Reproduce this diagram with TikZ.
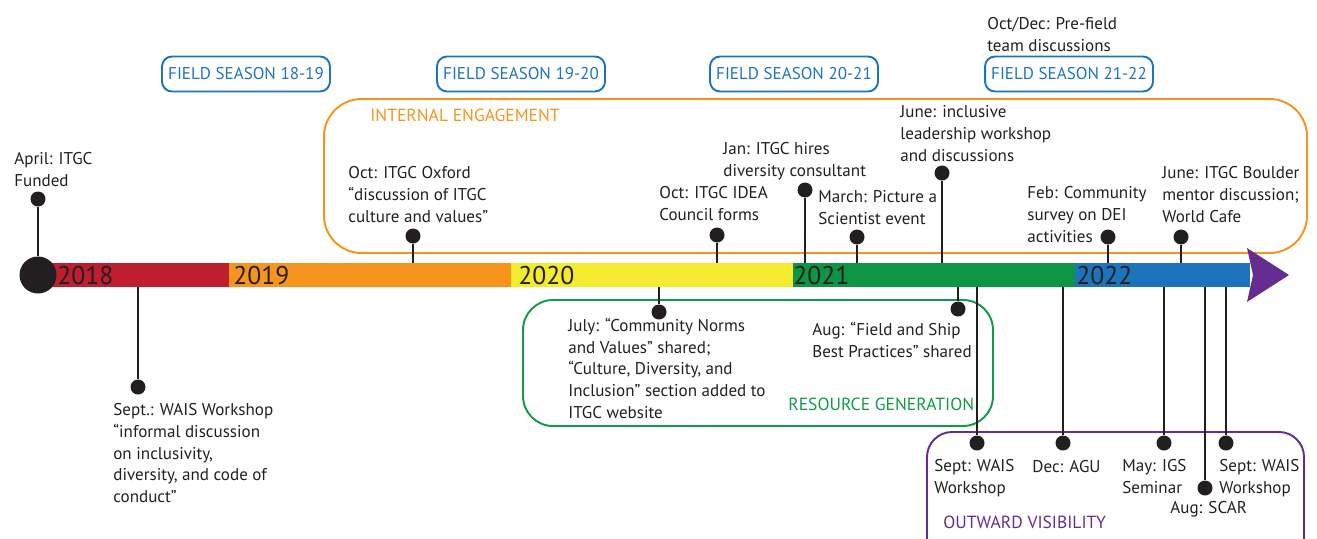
\documentclass[tikz,border=0pt]{standalone}
\usepackage{fontspec}
\setmainfont{PT Sans}
\usepackage{xcolor}
\usepackage{tikz}
\usetikzlibrary{positioning}
\definecolor{ink}{HTML}{231F20}
\definecolor{yearA}{HTML}{BE1E2D}
\definecolor{yearB}{HTML}{F7941D}
\definecolor{yearC}{HTML}{F3EC2E}
\definecolor{yearD}{HTML}{0D9444}
\definecolor{yearE}{HTML}{1C75BC}
\definecolor{tip}{HTML}{662D91}
\definecolor{internal}{HTML}{F7941D}
\definecolor{resource}{HTML}{129A48}
\definecolor{outward}{HTML}{662D91}

\begin{document}
\begin{tikzpicture}[
    x=0.02cm, y=-0.02cm,
    every node/.style={align=left, inner sep=0pt, text=ink},
    event/.style={anchor=base west, font=\fontsize{9.7}{12.24}\selectfont},
    dot/.style={circle, fill=ink, minimum size=0.3cm},
    stem/.style={draw=ink, line width=1.3pt},
    season/.style={rectangle, draw=yearE, line width=1.1pt, rounded corners=0.2cm, minimum width=3.36cm, minimum height=0.7cm, align=center, text=yearE, font=\fontsize{9.7}{12}\selectfont},
    group/.style={line width=1.1pt, rounded corners=0.75cm},
    grouplabel/.style={anchor=base west, font=\fontsize{10}{12}\selectfont},
    year/.style={anchor=base west, font=\fontsize{14.6}{18}\selectfont}
]
\useasboundingbox (0,0) rectangle (1317,538);

% Field seasons
\node[season] (fs1819) at (246,74) {FIELD SEASON 18-19};
\node[season] (fs1920) at (521,74) {FIELD SEASON 19-20};
\node[season] (fs2021) at (794,74) {FIELD SEASON 20-21};
\node[season] (fs2122) at (1069,74) {FIELD SEASON 21-22};

% Groups
\draw[group, draw=internal] (324,99) rectangle (1307,253);
\draw[group, draw=resource, rounded corners=0.6cm] (523,300) rectangle (993,426);
\draw[group, draw=outward, rounded corners=0.5cm] (927,432) rectangle (1304,570);
\node[grouplabel, text=internal] (internallbl) at (370,121) {INTERNAL ENGAGEMENT};
\node[grouplabel, text=resource] (resourcelbl) at (788,410) {RESOURCE GENERATION};
\node[grouplabel, text=outward] (outwardlbl) at (943,528) {OUTWARD VISIBILITY};

% Axis
\coordinate (axis) at (0,275);

% Dots above the bar
\node[dot] (funded) at (38,199) {};
\node[dot] (oxford) at (413,236) {};
\node[dot] (idea) at (717,235) {};
\node[dot] (hires) at (805,190) {};
\node[dot] (picture) at (857,237) {};
\node[dot] (lead) at (942,173) {};
\node[dot] (survey) at (1108,237) {};
\node[dot] (boulder) at (1181,237) {};

% Dots below the bar
\node[dot] (wais18) at (138,387) {};
\node[dot] (norms) at (659,312) {};
\node[dot] (ship) at (958,309) {};
\node[dot] (wais21) at (977,443) {};
\node[dot] (agu) at (1063,443) {};
\node[dot] (igs) at (1164,443) {};
\node[dot] (scar) at (1205,488) {};
\node[dot] (wais22) at (1226,443) {};

% Stems
\foreach \d in {oxford, idea, hires, picture, lead, survey, boulder, wais18, norms, ship, wais21, agu, igs, scar, wais22}
  \draw[stem] (\d) -- (\d |- axis);

% Bar
\fill[yearA] (38,263) rectangle (229,287);
\fill[yearB] (229,263) rectangle (511,287);
\fill[yearC] (511,263) rectangle (793,287);
\fill[yearD] (793,263) rectangle (1075,287);
\fill[yearE] (1075,263) rectangle (1250,287);
\fill[tip] (1247,248) -- (1289,275) -- (1247,302) -- (1253,275) -- cycle;
\node[year] (y2018) at (57,284) {2018};
\node[year] (y2019) at (233,284) {2019};
\node[year] (y2020) at (518,284) {2020};
\node[year] (y2021) at (793,284) {2021};
\node[year] (y2022) at (1076,284) {2022};

% Start
\node[circle, fill=ink, minimum size=0.74cm] (start) at (38,275) {};
\draw[stem] (funded) -- (start);

% Texts above (placed at the baseline of their last line)
\node[event] (fundedtxt) at (14,186) {April: ITGC\\Funded};
\node[event] (oxfordtxt) at (348,222) {Oct: ITGC Oxford\\“discussion of ITGC\\culture and values”};
\node[event] (ideatxt) at (659,220) {Oct: ITGC IDEA\\Council forms};
\node[event] (hirestxt) at (723,176) {Jan: ITGC hires\\diversity consultant};
\node[event] (picturetxt) at (818,224) {March: Picture a\\Scientist event};
\node[event] (leadtxt) at (900,161) {June: inclusive\\leadership workshop\\and discussions};
\node[event] (surveytxt) at (1027,242) {Feb: Community\\survey on DEI\\activities};
\node[event] (bouldertxt) at (1162,222) {June: ITGC Boulder\\mentor discussion;\\World Cafe};
\node[event] (prefieldtxt) at (987,51) {Oct/Dec: Pre-field\\team discussions};

% Texts below
\node[event] (wais18txt) at (113,502) {Sept.: WAIS Workshop\\“informal discussion\\on inclusivity,\\diversity, and code of\\conduct”};
\node[event] (normstxt) at (568,418) {July: “Community Norms\\and Values” shared;\\“Culture, Diversity, and\\Inclusion” section added to\\ITGC website};
\node[event] (shiptxt) at (812,357) {Aug: “Field and Ship\\Best Practices” shared};
\node[event] (wais21txt) at (934,493) {Sept: WAIS\\Workshop};
\node[event] (agutxt) at (1032,472) {Dec: AGU};
\node[event] (igstxt) at (1122,493) {May: IGS\\Seminar};
\node[event] (scartxt) at (1170,513) {Aug: SCAR};
\node[event] (wais22txt) at (1219,493) {Sept: WAIS\\Workshop};

\end{tikzpicture}
\end{document}
